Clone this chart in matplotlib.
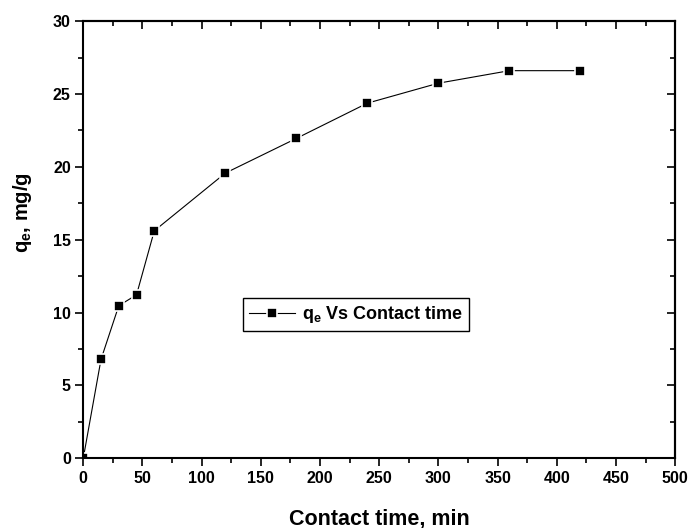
import matplotlib
matplotlib.use("Agg")
from matplotlib import pyplot as plt
from matplotlib.ticker import MultipleLocator

plt.rcParams['font.family'] = ['Liberation Sans', 'DejaVu Sans']
plt.rcParams['font.weight'] = 'bold'
plt.rcParams['mathtext.fontset'] = 'custom'
plt.rcParams['mathtext.rm'] = 'Liberation Sans:bold'
plt.rcParams['mathtext.bf'] = 'Liberation Sans:bold'
plt.rcParams['mathtext.it'] = 'Liberation Sans:bold'

# Дані: час контакту (хв) та адсорбція q_e (мг/г)
time_min = [0, 15, 30, 45, 60, 120, 180, 240, 300, 360, 420]
qe = [0, 6.79, 10.47, 11.22, 15.61, 19.57, 21.95, 24.37, 25.74, 26.6, 26.6]

fig = plt.figure(figsize=(6.91, 5.28), dpi=100)
ax = fig.add_axes([0.1205, 0.132, 0.8565, 0.828])

ax.plot(time_min, qe, color='black', lw=0.8, marker='s', markersize=7.2,
        markerfacecolor='black', markeredgecolor='white', markeredgewidth=1.2,
        label=r'$\mathbf{q_e}$ Vs Contact time')

ax.set_xlim(0, 500)
ax.set_ylim(0, 30)
ax.xaxis.set_major_locator(MultipleLocator(50))
ax.xaxis.set_minor_locator(MultipleLocator(25))
ax.yaxis.set_major_locator(MultipleLocator(5))
ax.yaxis.set_minor_locator(MultipleLocator(2.5))

for s in ax.spines.values():
    s.set_linewidth(1.5)

ax.tick_params(which='both', direction='out', width=1.2, labelsize=11.5, pad=3)
ax.tick_params(which='major', length=6)
ax.tick_params(which='minor', length=3.5)

# верхня та права осі з рисками всередину
top = ax.secondary_xaxis('top')
top.xaxis.set_major_locator(MultipleLocator(50))
top.xaxis.set_minor_locator(MultipleLocator(25))
top.tick_params(which='both', direction='in', width=1.2, labeltop=False)
top.tick_params(which='major', length=6)
top.tick_params(which='minor', length=3.5)
right = ax.secondary_yaxis('right')
right.yaxis.set_major_locator(MultipleLocator(5))
right.yaxis.set_minor_locator(MultipleLocator(2.5))
right.tick_params(which='both', direction='in', width=1.2, labelright=False)
right.tick_params(which='major', length=6)
right.tick_params(which='minor', length=3.5)
top.spines['top'].set_linewidth(1.5)
right.spines['right'].set_linewidth(1.5)

for lab in ax.get_xticklabels() + ax.get_yticklabels():
    lab.set_fontweight('bold')

ax.set_xlabel('Contact time, min', fontsize=15.5, fontweight='bold', labelpad=16)
ax.set_ylabel(r'$\mathbf{q_e}$, mg/g', fontsize=14.5, fontweight='bold')
ax.yaxis.set_label_coords(-0.084, 0.563)

leg = ax.legend(loc='upper left', bbox_to_anchor=(0.27, 0.367), fancybox=False,
                framealpha=1, edgecolor='black', handlelength=2.5,
                prop={'size': 13, 'weight': 'bold'}, borderpad=0.35,
                handletextpad=0.4, borderaxespad=0)
leg.get_frame().set_linewidth(1.0)

fig.savefig('out.png', dpi=100)
